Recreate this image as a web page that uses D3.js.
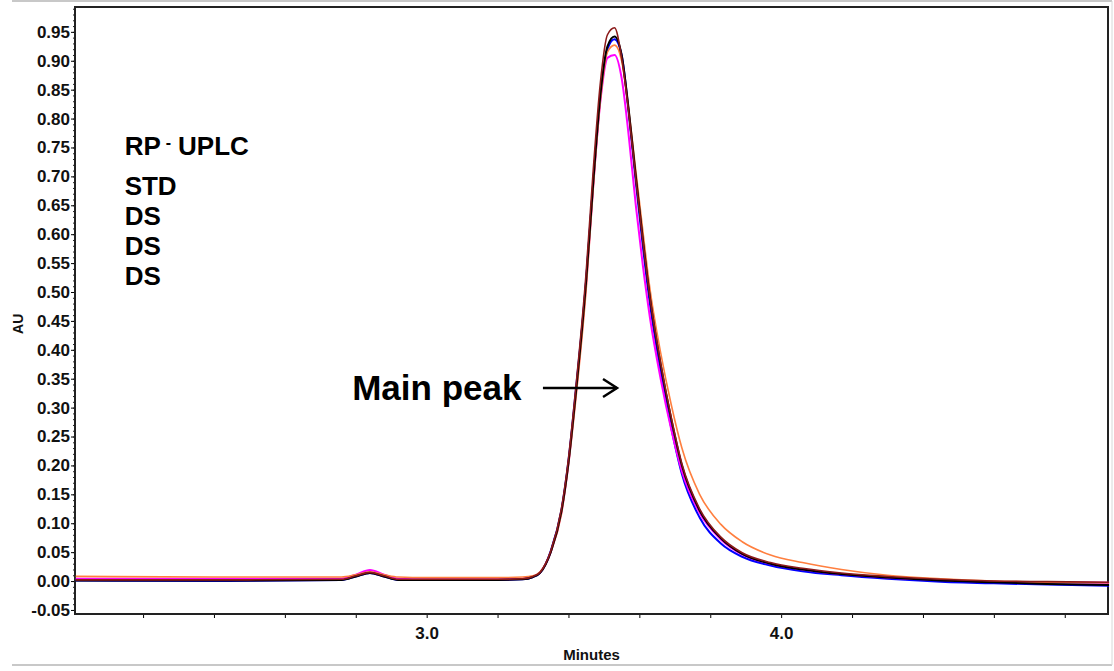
<!DOCTYPE html>
<html>
<head>
<meta charset="utf-8">
<script src="https://cdn.jsdelivr.net/npm/d3@7"></script>
<style>
  body { margin: 0; background: #fff; }
  svg { display: block; font-family: "Liberation Sans", Arial, sans-serif; font-weight: bold; }
</style>
</head>
<body>
<svg id="chart" width="1114" height="671"></svg>
<script>
// retention time grid (minutes)
var times = [2.01, 2.40, 2.76, 2.80, 2.84, 2.88, 2.92, 3.00, 3.20, 3.27, 3.30, 3.32, 3.35, 3.38, 3.40, 3.42,
             3.45, 3.47, 3.49, 3.51, 3.53, 3.55, 3.57, 3.59, 3.61, 3.63, 3.66, 3.69, 3.72, 3.77, 3.83,
             3.89, 3.97, 4.06, 4.17, 4.30, 4.45, 4.60, 4.75, 4.925];

// absorbance (AU) per injection
var orangeAU  = [0.008, 0.007, 0.007, 0.011, 0.016, 0.011, 0.007, 0.006, 0.006, 0.007, 0.009, 0.016, 0.050, 0.115, 0.200, 0.310,
                 0.505, 0.680, 0.830, 0.915, 0.927, 0.900, 0.815, 0.710, 0.605, 0.505, 0.395, 0.305, 0.230, 0.150, 0.098,
                 0.068, 0.045, 0.032, 0.020, 0.010, 0.004, 0.000, -0.002, -0.003];
var blueAU    = [0.001, 0.000, 0.002, 0.008, 0.014, 0.008, 0.002, 0.002, 0.002, 0.003, 0.007, 0.014, 0.052, 0.122, 0.208, 0.325,
                 0.522, 0.692, 0.838, 0.920, 0.937, 0.910, 0.810, 0.690, 0.578, 0.478, 0.363, 0.265, 0.185, 0.110, 0.065,
                 0.042, 0.027, 0.017, 0.010, 0.004, -0.001, -0.004, -0.006, -0.008];
var magentaAU = [0.004, 0.004, 0.004, 0.011, 0.019, 0.011, 0.004, 0.003, 0.003, 0.004, 0.008, 0.015, 0.050, 0.118, 0.203, 0.318,
                 0.515, 0.685, 0.830, 0.905, 0.910, 0.870, 0.770, 0.650, 0.545, 0.455, 0.350, 0.262, 0.190, 0.118, 0.072,
                 0.046, 0.030, 0.020, 0.012, 0.006, 0.002, -0.001, -0.002, -0.003];
var blackAU   = [0.001, 0.001, 0.002, 0.008, 0.014, 0.008, 0.002, 0.002, 0.002, 0.003, 0.007, 0.014, 0.050, 0.120, 0.205, 0.320,
                 0.520, 0.690, 0.840, 0.925, 0.942, 0.910, 0.815, 0.700, 0.590, 0.490, 0.375, 0.280, 0.200, 0.122, 0.074,
                 0.047, 0.030, 0.020, 0.012, 0.006, 0.001, -0.002, -0.005, -0.007];
var maroonAU  = [0.002, 0.002, 0.003, 0.009, 0.015, 0.009, 0.003, 0.003, 0.003, 0.004, 0.008, 0.015, 0.052, 0.125, 0.212, 0.330,
                 0.535, 0.712, 0.862, 0.945, 0.957, 0.905, 0.810, 0.695, 0.588, 0.490, 0.377, 0.283, 0.203, 0.125, 0.076,
                 0.049, 0.032, 0.022, 0.014, 0.008, 0.003, 0.000, -0.001, -0.002];

var yTickValues = d3.range(-1, 20).map(i => i * 0.05);
var yMinorValues = d3.range(-5, 100).map(i => i * 0.01);
var xMinorValues = d3.range(11, 25).map(i => i * 0.2);
var xTickLabels = [3.0, 4.0];

var legendLines = ["STD", "DS", "DS", "DS"];

var svg = d3.select("#chart");
var margin = { top: 7, right: 6, bottom: 57, left: 75 };
var width = 1114 - margin.left - margin.right;
var height = 671 - margin.top - margin.bottom;

// light outer frame of the picture
svg.append("line").attr("x1", 12).attr("x2", 1112).attr("y1", 1).attr("y2", 1).attr("stroke", "#c8c8c8").attr("stroke-width", 2);
svg.append("line").attr("x1", 12).attr("x2", 1112).attr("y1", 665).attr("y2", 665).attr("stroke", "#c8c8c8").attr("stroke-width", 2);
svg.append("line").attr("x1", 1112).attr("x2", 1112).attr("y1", 1).attr("y2", 665).attr("stroke", "#d8d8d8").attr("stroke-width", 1);

var g = svg.append("g").attr("transform", "translate(" + margin.left + "," + margin.top + ")");

var x = d3.scaleLinear().domain([2.008, 4.922]).range([0, width]);
var y = d3.scaleLinear().domain([-0.057, 0.993]).range([height, 0]);

// minor ticks on y axis
g.append("g")
    .call(d3.axisLeft(y).tickValues(yMinorValues).tickSize(2).tickFormat(""))
    .call(a => a.select(".domain").remove())
    .selectAll("line").attr("stroke", "#222");

g.append("g")
    .call(d3.axisLeft(y).tickValues(yTickValues).tickSize(4).tickPadding(1).tickFormat(d => d.toFixed(2)))
    .call(a => a.select(".domain").remove())
    .selectAll("text")
    .attr("font-size", 17).attr("font-family", "Liberation Sans, Arial, sans-serif")
    .attr("font-weight", "bold").attr("fill", "#111");

g.append("g")
    .attr("transform", "translate(0," + height + ")")
    .call(d3.axisBottom(x).tickValues(xMinorValues).tickSize(4).tickPadding(9)
        .tickFormat(d => xTickLabels.some(v => Math.abs(v - d) < 1e-9) ? d.toFixed(1) : ""))
    .call(a => a.select(".domain").remove())
    .selectAll("text")
    .attr("font-size", 17).attr("font-family", "Liberation Sans, Arial, sans-serif")
    .attr("font-weight", "bold").attr("fill", "#111");

// plot frame
g.append("rect")
    .attr("width", width).attr("height", height)
    .attr("fill", "none").attr("stroke", "#222").attr("stroke-width", 2);

var line = d3.line()
    .x(d => x(d[0]))
    .y(d => y(d[1]))
    .curve(d3.curveMonotoneX);

var series = [
    { values: blueAU, color: "#0000ff", w: 2 },
    { values: magentaAU, color: "#ff00ff", w: 2 },
    { values: orangeAU, color: "#ff7f3f", w: 1.6 },
    { values: blackAU, color: "#000000", w: 2 },
    { values: maroonAU, color: "#8b1a1a", w: 1.6 }
];

var plot = g.append("g");
series.forEach(s => {
    plot.append("path")
        .datum(times.map((t, i) => [t, s.values[i]]))
        .attr("fill", "none")
        .attr("stroke", s.color)
        .attr("stroke-width", s.w)
        .attr("stroke-linejoin", "round")
        .attr("d", line);
});

// axis titles
svg.append("text")
    .attr("x", margin.left + x(3.465)).attr("y", 660)
    .attr("text-anchor", "middle").attr("font-size", 15).attr("fill", "#111")
    .text("Minutes");

svg.append("text")
    .attr("transform", "translate(23," + (margin.top + y(0.445)) + ") rotate(-90)")
    .attr("text-anchor", "middle").attr("font-size", 14).attr("fill", "#111")
    .text("AU");

// legend text
var lx = margin.left + x(2.148);
var title = svg.append("text").attr("x", lx).attr("y", margin.top + y(0.737))
    .attr("font-size", 26).attr("fill", "#000");
title.append("tspan").text("RP");
title.append("tspan").attr("dx", 5).attr("dy", -7).attr("font-size", 16).text("-");
title.append("tspan").attr("dx", 7).attr("dy", 7).text("UPLC");

legendLines.forEach((t, i) => {
    svg.append("text")
        .attr("x", lx)
        .attr("y", margin.top + y(0.668) + i * 30)
        .attr("font-size", 26).attr("fill", "#000")
        .text(t);
});

// main peak annotation
svg.append("text")
    .attr("x", margin.left + x(2.79)).attr("y", margin.top + y(0.313))
    .attr("font-size", 35).attr("fill", "#000")
    .text("Main peak");

var ax0 = margin.left + x(3.328), ax1 = margin.left + x(3.537), ay = margin.top + y(0.334);
svg.append("line").attr("x1", ax0).attr("x2", ax1).attr("y1", ay).attr("y2", ay)
    .attr("stroke", "#000").attr("stroke-width", 2.5);
svg.append("path")
    .attr("d", "M" + (ax1 - 14) + "," + (ay - 9) + " L" + ax1 + "," + ay + " L" + (ax1 - 14) + "," + (ay + 9))
    .attr("fill", "none").attr("stroke", "#000").attr("stroke-width", 2.5);
</script>
</body>
</html>
